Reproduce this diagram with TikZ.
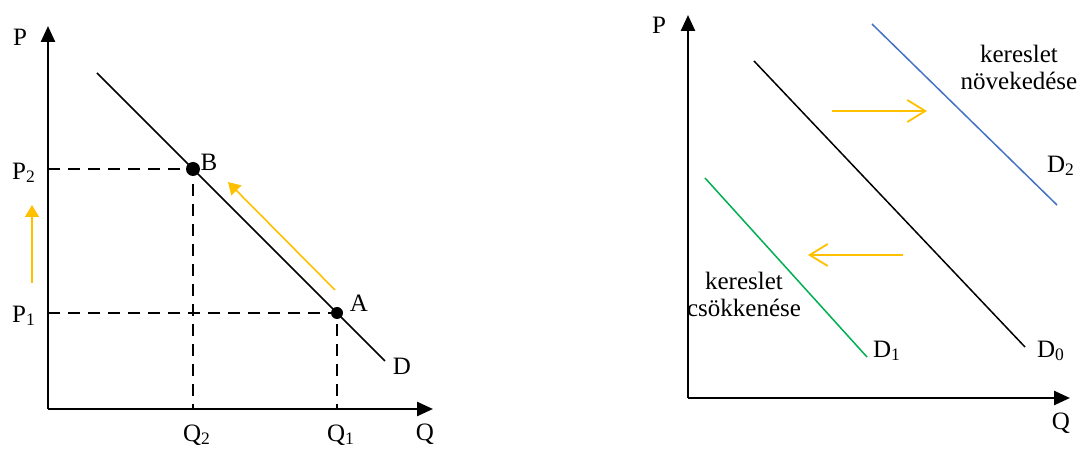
\documentclass[tikz,border=0pt]{standalone}
\usepackage{fontspec}
\setmainfont{Liberation Serif}
\usepackage{xcolor}
\usetikzlibrary{arrows.meta,positioning}
\definecolor{shiftyellow}{RGB}{255,192,0}
\definecolor{incblue}{RGB}{68,114,196}
\definecolor{decgreen}{RGB}{0,176,80}

\begin{document}
\begin{tikzpicture}[
  x=0.5pt, y=0.5pt,
  every node/.style={font=\fontsize{12.5}{14.5}\selectfont, inner sep=0pt},
  axis/.style={line width=1.25pt, -{Triangle[length=8pt,width=7pt]}},
  curve/.style={line width=0.75pt},
  guide/.style={line width=1pt, dash pattern=on 6pt off 4pt},
  dot/.style={circle, fill=black, inner sep=0pt},
  move/.style={line width=0.8pt, color=shiftyellow, -{Triangle[length=6pt,width=7pt]}},
  shiftarrow/.style={line width=0.9pt, color=shiftyellow, -{Straight Barb[length=9pt,width=11pt,line width=0.9pt]}}
]
  \useasboundingbox (0,0) rectangle (1078,450);

  % left panel: movement along the curve
  \coordinate (origL) at (48,41);
  \coordinate (topL) at (48,424);
  \coordinate (endL) at (433,41);
  \coordinate (dStart) at (97,377);
  \coordinate (dEnd) at (385,89);
  \node[dot, minimum size=7pt] (ptB) at (193,281) {};
  \node[dot, minimum size=6pt] (ptA) at (337,137) {};

  \draw[axis] (origL) -- (topL);
  \draw[axis] (origL) -- (endL);
  \draw[curve] (dStart) -- (dEnd);
  \draw[guide] (origL|-ptB) -- (ptB.center) -- (ptB|-origL);
  \draw[guide] (origL|-ptA) -- (ptA.center) -- (ptA|-origL);

  \coordinate (mvFrom) at (335,160);
  \coordinate (mvTo) at (228,268);
  \draw[move] (mvFrom) -- (mvTo);
  \coordinate (upFrom) at (32,167);
  \coordinate (upTo) at (32,245);
  \draw[move] (upFrom) -- (upTo);

  \node (labPL) at (20,413) {P};
  \node (labP2) at (24,277) {P\textsubscript{2}};
  \node (labP1) at (24,134) {P\textsubscript{1}};
  \node (labQ2) at (197,15) {Q\textsubscript{2}};
  \node (labQ1) at (341,15) {Q\textsubscript{1}};
  \node (labQL) at (425,16) {Q};
  \node (labB) at (209,288) {B};
  \node (labA) at (359,147) {A};
  \node (labD) at (402,84) {D};

  % right panel: shifts of the curve
  \coordinate (origR) at (688,52);
  \coordinate (topR) at (688,435);
  \coordinate (endR) at (1070,52);
  \draw[axis] (origR) -- (topR);
  \draw[axis] (origR) -- (endR);

  \coordinate (dzStart) at (754,389);
  \coordinate (dzEnd) at (1025,103);
  \coordinate (dtStart) at (872,426);
  \coordinate (dtEnd) at (1057,245);
  \coordinate (doStart) at (705,272);
  \coordinate (doEnd) at (867,93);
  \draw[curve] (dzStart) -- (dzEnd);
  \draw[curve, color=incblue] (dtStart) -- (dtEnd);
  \draw[curve, color=decgreen] (doStart) -- (doEnd);

  \coordinate (rgtFrom) at (832,339);
  \coordinate (rgtTo) at (927,339);
  \draw[shiftarrow] (rgtFrom) -- (rgtTo);
  \coordinate (lftFrom) at (903,195);
  \coordinate (lftTo) at (808,195);
  \draw[shiftarrow] (lftFrom) -- (lftTo);

  \node (labPR) at (659,425) {P};
  \node (labQR) at (1061,27) {Q};
  \node (labD2) at (1061,284) {D\textsubscript{2}};
  \node (labD0) at (1051,99) {D\textsubscript{0}};
  \node (labD1) at (887,99) {D\textsubscript{1}};
  \node[align=center] (labInc) at (1019,383) {kereslet\\[-1pt]növekedése};
  \node[align=center] (labDec) at (744,156) {kereslet\\[-1pt]csökkenése};
\end{tikzpicture}
\end{document}
